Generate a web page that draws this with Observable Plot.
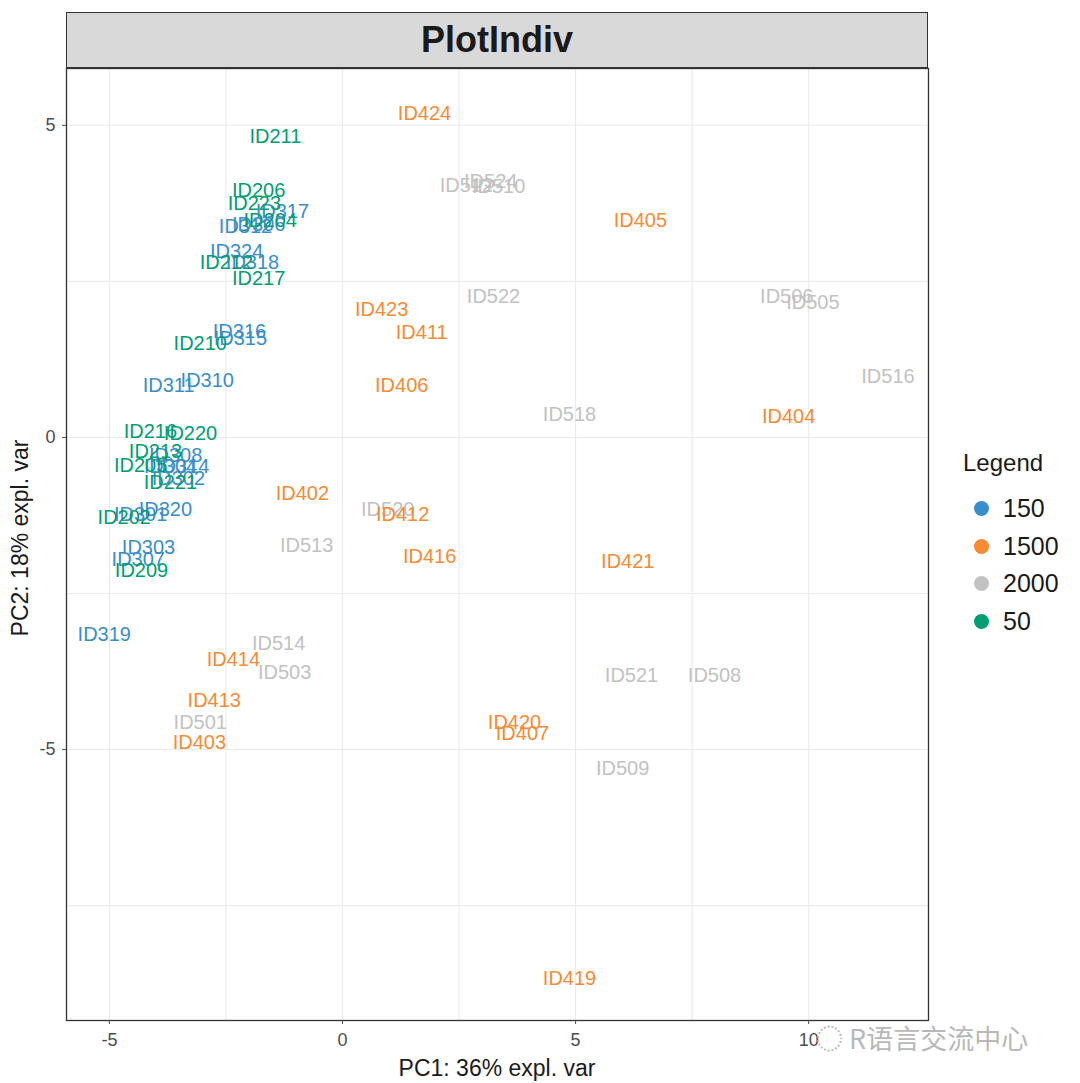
<!DOCTYPE html>
<html>
<head>
<meta charset="utf-8">
<script src="https://cdn.jsdelivr.net/npm/d3@7"></script>
<script src="https://cdn.jsdelivr.net/npm/@observablehq/plot@0.6"></script>
<style>
  body { margin: 0; background: #fff; }
  #wrap { position: relative; width: 1080px; height: 1083px; font-family: "Liberation Sans", Arial, sans-serif; }
  #wrap svg [aria-label$="tick label"] { font-size: 18px !important; }
  #strip { position: absolute; left: 66px; top: 12px; width: 860px; height: 54px; background: #d9d9d9;
           border: 1.3px solid #333; display: flex; align-items: center; justify-content: center;
           font-weight: bold; font-size: 36px; color: #1a1a1a; box-sizing: content-box; }
  .ttl { position: absolute; font-size: 23px; color: #1a1a1a; white-space: nowrap; }
  #legend { position: absolute; left: 963px; top: 449px; }
  #legend .lt { font-size: 24px; color: #1a1a1a; margin-bottom: 13px; }
  #legend .row { display: flex; align-items: center; height: 37.5px; font-size: 25px; color: #1a1a1a; }
  #legend .dot { width: 15px; height: 15px; border-radius: 50%; margin-left: 11px; margin-right: 14px; }
  #wm { position: absolute; left: 816px; top: 1018px; font-size: 27px; color: #b8b8b8; font-family: "Noto Sans CJK SC", sans-serif; white-space: nowrap; }
</style>
</head>
<body>
<div id="wrap"></div>
<script>
// ---- data ----
const groupLevels = ["150", "1500", "2000", "50"];
const groupColors = ["#388ECC", "#F68B33", "#C2C2C2", "#009E73"];

const idsGreen = ["ID211","ID206","ID223","ID204","ID212","ID217","ID210","ID216","ID220","ID213","ID205","ID221","ID202","ID209"];
const pc1Green = [-1.44,-1.80,-1.89,-1.55,-2.49,-1.80,-3.05,-4.12,-3.26,-4.01,-4.33,-3.69,-4.68,-4.31];
const pc2Green = [4.82,3.96,3.75,3.48,2.80,2.55,1.51,0.10,0.06,-0.22,-0.45,-0.72,-1.28,-2.13];

const idsBlue = ["ID317","ID306","ID312","ID324","ID318","ID316","ID315","ID311","ID310","ID308","ID304","ID314","ID302","ID320","ID301","ID303","ID307","ID319"];
const pc1Blue = [-1.29,-1.80,-2.08,-2.27,-1.93,-2.21,-2.19,-3.73,-2.90,-3.58,-3.69,-3.43,-3.52,-3.80,-4.33,-4.16,-4.38,-5.11];
const pc2Blue = [3.62,3.41,3.37,2.98,2.80,1.70,1.59,0.83,0.91,-0.29,-0.46,-0.46,-0.66,-1.15,-1.23,-1.76,-1.96,-3.16];

const idsOrange = ["ID424","ID405","ID423","ID411","ID406","ID404","ID402","ID412","ID416","ID421","ID414","ID413","ID403","ID420","ID407","ID419"];
const pc1Orange = [1.76,6.39,0.84,1.70,1.27,9.57,-0.86,1.29,1.87,6.12,-2.34,-2.75,-3.07,3.69,3.86,4.87];
const pc2Orange = [5.19,3.48,2.05,1.68,0.83,0.34,-0.90,-1.23,-1.91,-1.99,-3.56,-4.21,-4.89,-4.57,-4.74,-8.67];

const idsGrey = ["ID512","ID524","ID510","ID522","ID506","ID505","ID516","ID518","ID520","ID513","ID514","ID503","ID501","ID521","ID508","ID509"];
const pc1Grey = [2.66,3.18,3.35,3.24,9.53,10.09,11.70,4.87,0.97,-0.77,-1.37,-1.24,-3.05,6.20,7.98,6.01];
const pc2Grey = [4.04,4.10,4.02,2.26,2.26,2.16,0.98,0.37,-1.15,-1.73,-3.30,-3.77,-4.57,-3.81,-3.81,-5.30];

const xTicks = [-5, 0, 5, 10];
const yTicks = [-5, 0, 5];
const xGrid = [-5, -2.5, 0, 2.5, 5, 7.5, 10];
const yGrid = [-7.5, -5, -2.5, 0, 2.5, 5];

const titleText = "PlotIndiv";
const xTitle = "PC1: 36% expl. var";
const yTitle = "PC2: 18% expl. var";
const legendTitle = "Legend";

// ---- build table ----
function part(ids, xs, ys, g) { return ids.map((id, i) => ({id, x: xs[i], y: ys[i], group: g})); }
const rows = [
  ...part(idsGrey, pc1Grey, pc2Grey, "2000"),
  ...part(idsOrange, pc1Orange, pc2Orange, "1500"),
  ...part(idsBlue, pc1Blue, pc2Blue, "150"),
  ...part(idsGreen, pc1Green, pc2Green, "50")
];

const plot = Plot.plot({
  width: 1080,
  height: 1083,
  marginLeft: 66,
  marginRight: 152,
  marginTop: 68,
  marginBottom: 63,
  style: {fontFamily: "'Liberation Sans', Arial, sans-serif", fontSize: "17px", background: "transparent"},
  x: {domain: [-5.92, 12.57]},
  y: {domain: [-9.34, 5.91]},
  color: {domain: groupLevels, range: groupColors},
  marks: [
    Plot.ruleX(xGrid, {stroke: "#ebebeb", strokeWidth: 1.1}),
    Plot.ruleY(yGrid, {stroke: "#ebebeb", strokeWidth: 1.1}),
    Plot.text(rows, {x: "x", y: "y", text: "id", fill: "group", fontSize: 20}),
    Plot.frame({stroke: "#333", strokeWidth: 1.3}),
    Plot.axisX({ticks: xTicks, tickSize: 4, tickPadding: 9, color: "#4d4d4d", label: null, tickFormat: d => String(d)}),
    Plot.axisY({ticks: yTicks, tickSize: 4, tickPadding: 7, color: "#4d4d4d", label: null, tickFormat: d => String(d)})
  ]
});

const wrap = document.getElementById("wrap");
wrap.appendChild(plot);
plot.style.position = "absolute";
plot.style.left = "0px";
plot.style.top = "0px";

const strip = document.createElement("div");
strip.id = "strip";
strip.textContent = titleText;
wrap.appendChild(strip);

const xt = document.createElement("div");
xt.className = "ttl";
xt.textContent = xTitle;
xt.style.left = "497px"; xt.style.top = "1068px";
xt.style.transform = "translate(-50%, -50%)";
wrap.appendChild(xt);

const yt = document.createElement("div");
yt.className = "ttl";
yt.textContent = yTitle;
yt.style.left = "20px"; yt.style.top = "538px";
yt.style.transform = "translate(-50%, -50%) rotate(-90deg)";
wrap.appendChild(yt);

const lg = document.createElement("div");
lg.id = "legend";
let html = `<div class="lt">${legendTitle}</div>`;
groupLevels.forEach((g, i) => {
  html += `<div class="row"><span class="dot" style="background:${groupColors[i]}"></span><span>${g}</span></div>`;
});
lg.innerHTML = html;
wrap.appendChild(lg);

const wm = document.createElement("div");
wm.id = "wm";
wm.textContent = "◌ R语言交流中心";
wrap.appendChild(wm);
</script>
</body>
</html>
